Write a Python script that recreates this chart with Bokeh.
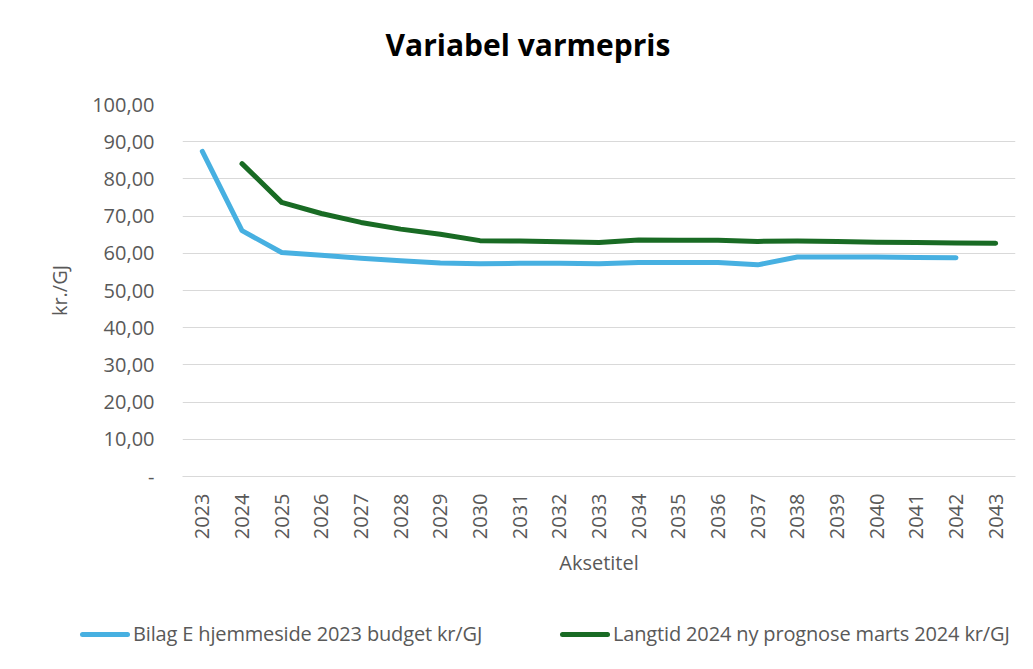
from bokeh.plotting import figure
from bokeh.models import ColumnDataSource, FixedTicker, Range1d, Div
from bokeh.layouts import column
from bokeh.embed import file_html
from bokeh.resources import INLINE
import math

years_a = [2023, 2024, 2025, 2026, 2027, 2028, 2029, 2030, 2031, 2032, 2033, 2034, 2035,
           2036, 2037, 2038, 2039, 2040, 2041, 2042]
bilag_e = [87.4, 66.1, 60.2, 59.5, 58.7, 58.0, 57.4, 57.2, 57.3, 57.3, 57.2, 57.5, 57.5,
           57.5, 56.9, 59.0, 59.0, 59.0, 58.9, 58.8]
years_b = [2024, 2025, 2026, 2027, 2028, 2029, 2030, 2031, 2032, 2033, 2034, 2035, 2036,
           2037, 2038, 2039, 2040, 2041, 2042, 2043]
langtid = [84.1, 73.7, 70.7, 68.3, 66.5, 65.1, 63.4, 63.3, 63.1, 62.9, 63.6, 63.5, 63.5,
           63.2, 63.3, 63.2, 63.0, 62.9, 62.8, 62.7]
y_ticks = [0, 10, 20, 30, 40, 50, 60, 70, 80, 90, 100]
y_labels = ["-", "10,00", "20,00", "30,00", "40,00", "50,00", "60,00", "70,00", "80,00", "90,00", "100,00"]
x_ticks = list(range(2023, 2044))
title_text = "Variabel varmepris"
series_names = ["Bilag E hjemmeside 2023 budget kr/GJ", "Langtid 2024 ny prognose marts 2024 kr/GJ"]

FONT = "Open Sans"
GREY = "#595959"
BLUE = "#47B0E1"
GREEN = "#196B24"

# title strip (HTML)
title_html = (f'<div style="position:relative;width:1017px;height:80px;">'
              f'<div style="position:absolute;left:228px;top:29px;width:600px;text-align:center;'
              f'font-family:\'{FONT}\';font-weight:700;font-size:30px;line-height:32px;color:#000;">'
              f'{title_text}</div></div>')
title_div = Div(text=title_html, width=1017, height=80, margin=0)

p = figure(width=1017, height=520, output_backend="svg", toolbar_location=None, title=None,
           x_range=Range1d(2022.5, 2043.5), y_range=Range1d(0, 100),
           min_border_left=182, min_border_right=2, min_border_top=24, min_border_bottom=124)
p.outline_line_color = None

src_a = ColumnDataSource(dict(x=years_a, y=bilag_e))
src_b = ColumnDataSource(dict(x=years_b, y=langtid))
p.line("x", "y", source=src_a, line_color=BLUE, line_width=5, line_join="round", line_cap="round")
p.line("x", "y", source=src_b, line_color=GREEN, line_width=5, line_join="round", line_cap="round")

# axes
p.xaxis.ticker = FixedTicker(ticks=x_ticks)
p.xaxis.major_label_orientation = math.pi / 2
p.xaxis.major_tick_line_color = None
p.xaxis.minor_tick_line_color = None
p.xaxis.axis_line_color = "#D9D9D9"
p.xaxis.major_label_text_font = FONT
p.xaxis.major_label_text_font_size = "20px"
p.xaxis.major_label_text_color = GREY
p.xaxis.major_label_standoff = 11
p.xaxis.axis_label = "Aksetitel"
p.xaxis.axis_label_text_font = FONT
p.xaxis.axis_label_text_font_size = "20px"
p.xaxis.axis_label_text_font_style = "normal"
p.xaxis.axis_label_text_color = GREY
p.xaxis.axis_label_standoff = 7

p.yaxis.ticker = FixedTicker(ticks=y_ticks)
p.yaxis.major_label_overrides = {t: l for t, l in zip(y_ticks, y_labels)}
p.yaxis.major_tick_line_color = None
p.yaxis.minor_tick_line_color = None
p.yaxis.axis_line_color = None
p.yaxis.major_label_text_font = FONT
p.yaxis.major_label_text_font_size = "20px"
p.yaxis.major_label_text_color = GREY
p.yaxis.major_label_standoff = 22
p.yaxis.axis_label = "kr./GJ"
p.yaxis.axis_label_text_font = FONT
p.yaxis.axis_label_text_font_size = "20px"
p.yaxis.axis_label_text_font_style = "normal"
p.yaxis.axis_label_text_color = GREY
p.yaxis.axis_label_standoff = 16

p.xgrid.grid_line_color = None
p.ygrid.grid_line_color = "#D9D9D9"
p.ygrid.grid_line_width = 1

# legend strip below the chart (HTML)
legend_items = [(series_names[0], BLUE, 80), (series_names[1], GREEN, 560)]
parts = []
for name, color, left in legend_items:
    parts.append(
        f'<div style="position:absolute;left:{left}px;top:24px;height:20px;display:flex;align-items:center;">'
        f'<span style="display:inline-block;width:50px;height:5px;border-radius:3px;background:{color};"></span>'
        f'<span style="margin-left:3px;font-family:\'{FONT}\';font-size:20px;color:{GREY};white-space:nowrap;line-height:20px;letter-spacing:-0.15px;">{name}</span>'
        f'</div>')
html = '<div style="position:relative;width:1017px;height:53px;">' + "".join(parts) + '</div>'
lg = Div(text=html, width=1017, height=53, margin=0)

layout = column(title_div, p, lg, spacing=0)
open("out.html", "w").write(file_html(layout, INLINE))
